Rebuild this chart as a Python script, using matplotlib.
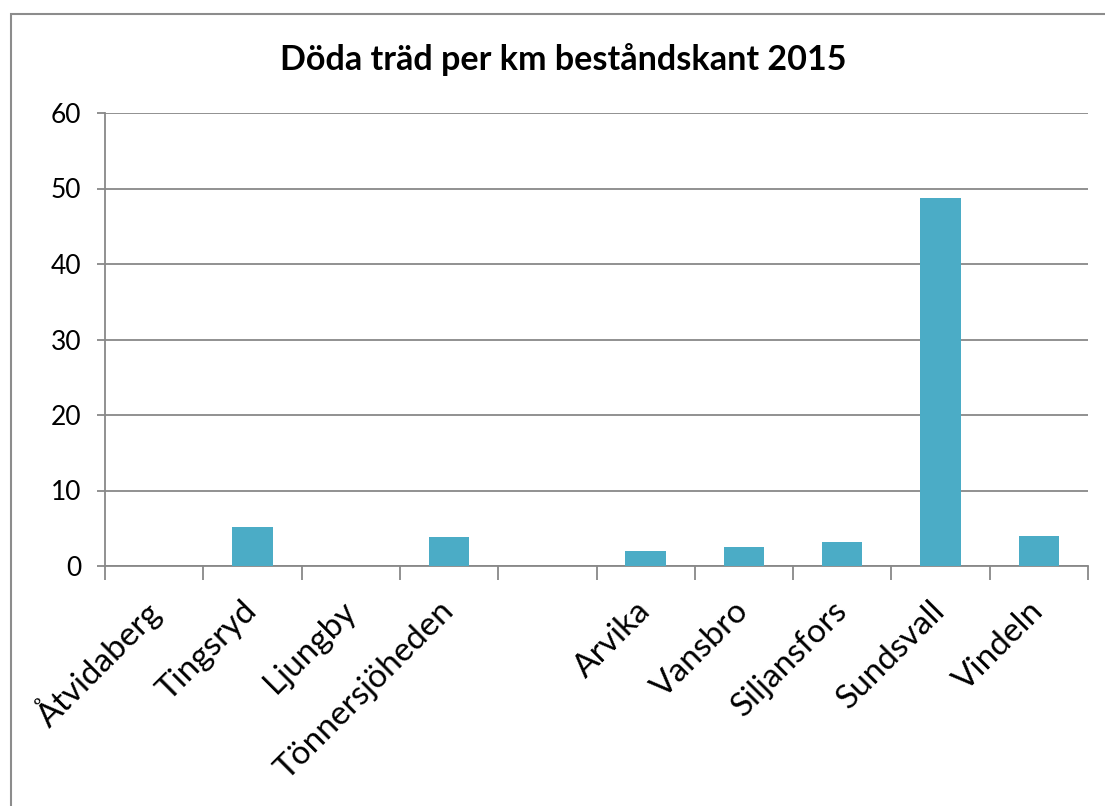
import matplotlib.pyplot as plt
from matplotlib.patches import Rectangle
import numpy as np

plt.rcParams['font.family'] = ['Lato', 'DejaVu Sans']

# data
sites = ['Åtvidaberg', 'Tingsryd', 'Ljungby', 'Tönnersjöheden', '',
         'Arvika', 'Vansbro', 'Siljansfors', 'Sundsvall', 'Vindeln']
dead_per_km = [0, 5.2, 0, 3.8, 0, 2.0, 2.5, 3.2, 48.7, 4.0]

fig = plt.figure(figsize=(11.05, 8.06), dpi=100)
ax = fig.add_axes([105/1105, 1 - 566/806, (1088 - 105)/1105, (566 - 113)/806])

x = np.arange(len(sites))
ax.bar(x, dead_per_km, width=0.41, color='#4bacc6', zorder=3)

ax.set_xlim(-0.5, len(sites) - 0.5)
ax.set_ylim(0, 60)
ax.set_yticks(range(0, 61, 10))
ax.yaxis.grid(True, color='#888888', linewidth=1.3)
ax.set_axisbelow(True)

ax.set_xticks(x)
ax.set_xticklabels(sites, rotation=45, ha='right', va='center', rotation_mode='anchor', fontsize=24)
ax.tick_params(axis='x', length=0, pad=29)
ax.set_xticks(np.arange(-0.5, len(sites)), minor=True)
ax.tick_params(axis='x', which='minor', length=10, width=1.3, color='#888888', direction='out')
ax.tick_params(axis='y', length=6, width=1.3, color='#888888', labelsize=19, pad=11)

for s in ['top', 'right']:
    ax.spines[s].set_visible(False)
for s in ['left', 'bottom']:
    ax.spines[s].set_color('#888888')
    ax.spines[s].set_linewidth(1.3)

fig.text(563/1105, 1 - 60/806, 'Döda träd per km beståndskant 2015',
         ha='center', va='center', fontsize=24.6, fontweight='bold')

# chart border
fig.patches.append(Rectangle((11/1105, -0.1), 1.2, 1.1 - 14/806, transform=fig.transFigure,
                             fill=False, edgecolor='#8c8c8c', linewidth=1.5))

fig.savefig('out.png', dpi=100)
